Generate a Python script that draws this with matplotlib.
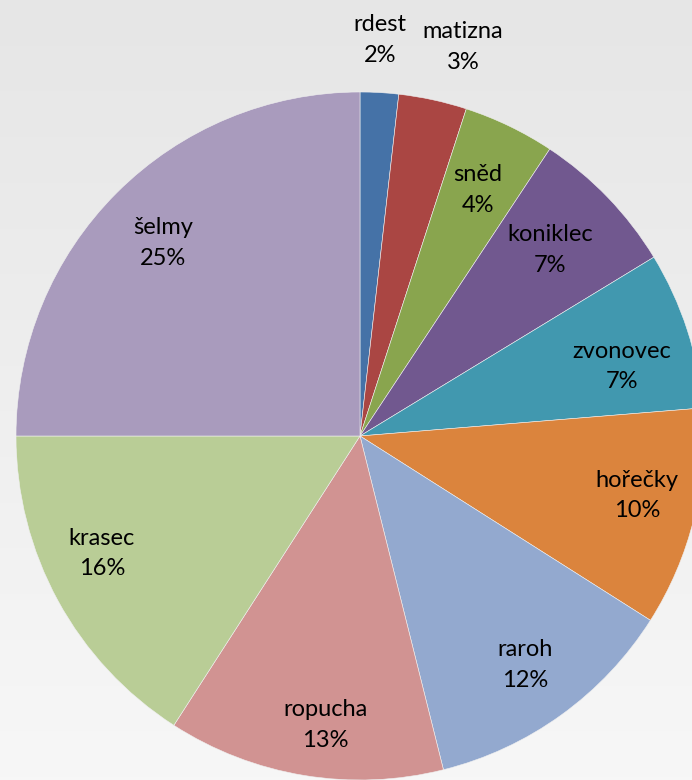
import numpy as np
import matplotlib
matplotlib.use("Agg")
import matplotlib.pyplot as plt

labels = ["rdest", "matizna", "sněd", "koniklec", "zvonovec",
          "hořečky", "raroh", "ropucha", "krasec", "šelmy"]
values = [1.8, 3.2, 4.3, 7.0, 7.4, 10.3, 12.1, 13.0, 15.9, 25.0]
colors = ["#4572A7", "#AA4643", "#89A54E", "#71588F", "#4198AF",
          "#DB843D", "#93A9CF", "#D19392", "#B9CD96", "#A99BBD"]
# label placement: distance as fraction of radius, angle nudge in degrees
label_r = [1.153, 1.17, 0.793, 0.773, 0.788, 0.824, 0.821, 0.846, 0.824, 0.802]
label_da = [0.3, -2.6, 0.1, 0.5, -3.2, 1.7, 0.0, 2.5, -4.2, 0.6]

plt.rcParams['font.family'] = ['Lato', 'DejaVu Sans']

fig = plt.figure(figsize=(6.92, 7.8), dpi=100)
ax = fig.add_axes([0, 0, 1, 1])

# background gradient, darker at the top
grad = np.linspace(0, 1, 256).reshape(-1, 1)
bg = matplotlib.colors.LinearSegmentedColormap.from_list('bg', ['#f7f7f7', '#e6e6e6'])
ax.imshow(grad, extent=(0, 692, 0, 780), cmap=bg, origin='lower', aspect='auto', zorder=0)

cx, cy, R = 360, 344, 344
wedges, _ = ax.pie(values, colors=colors, startangle=90, counterclock=False,
                   radius=R, center=(cx, cy), frame=True,
                   wedgeprops=dict(linewidth=0.4, edgecolor='#f0f0f0'))
ax.set_xlim(0, 692)
ax.set_ylim(0, 780)
ax.set_aspect('equal')
ax.axis('off')

total = sum(values)
pcts = [round(v / total * 100) for v in values]
for w, lab, p, lr, da in zip(wedges, labels, pcts, label_r, label_da):
    ang = np.deg2rad((w.theta1 + w.theta2) / 2 + da)
    x = cx + R * lr * np.cos(ang)
    y = cy + R * lr * np.sin(ang)
    ax.text(x, y, f"{lab}\n{p}%", ha='center', va='center', fontsize=17,
            linespacing=1.55, color='black', zorder=5)

fig.savefig("out.png", dpi=100)
